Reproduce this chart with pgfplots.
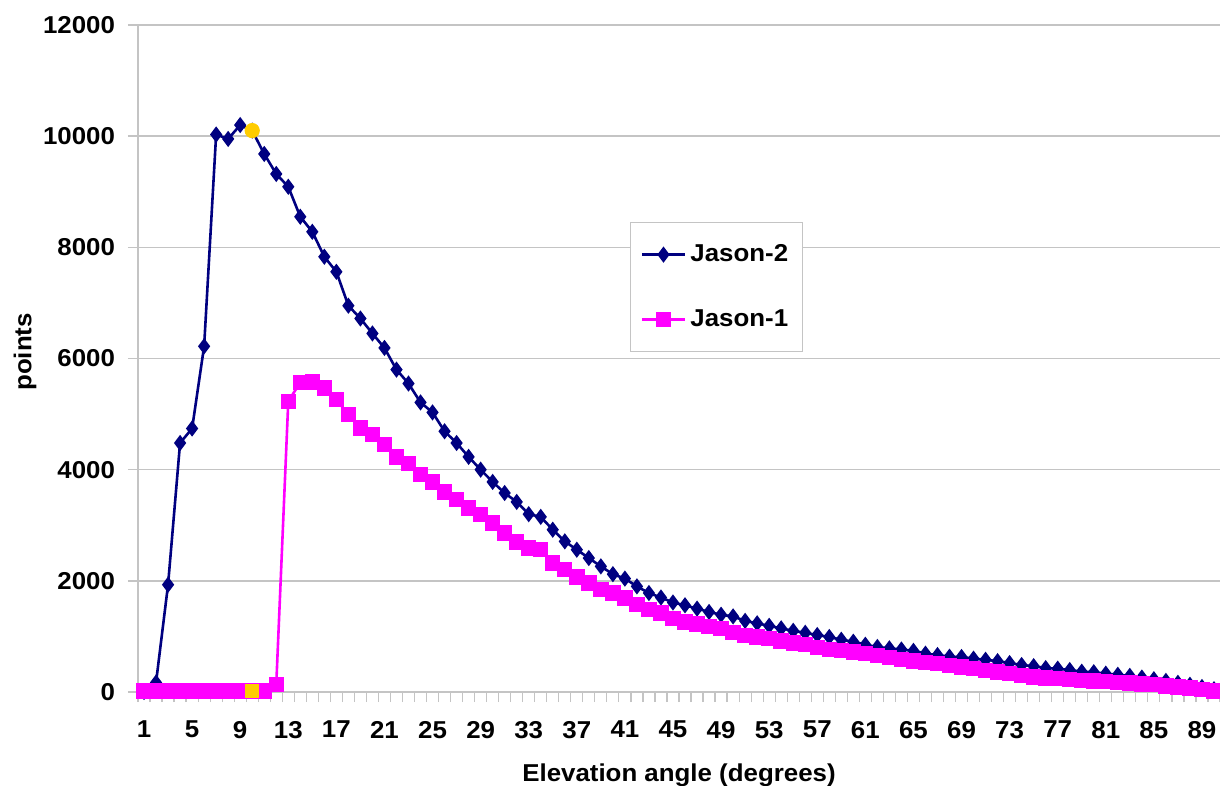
\documentclass[border=0pt]{standalone}
\usepackage{pgfplots}
\pgfplotsset{compat=1.18}
\usepackage{fontspec}
\setmainfont{Liberation Sans}[FakeStretch=1.06]
\usetikzlibrary{calc}
\definecolor{navyb}{HTML}{000080}
\definecolor{mag}{HTML}{FF00FF}
\definecolor{gold}{HTML}{FFCC00}
\definecolor{gridc}{HTML}{C4C4C4}
\newcommand{\lblfont}{\fontsize{12.2}{14}\selectfont\bfseries}
\begin{document}
\begin{tikzpicture}
\begin{axis}[
 scale only axis, width=541pt, height=333.5pt,
 xmin=0.5, xmax=90.5, ymin=0, ymax=12000,
 clip=false,
 scaled ticks=false,
 axis x line*=bottom, axis y line*=left,
 axis line style={gridc, line width=0.8pt, -},
 xtick={1,5,...,89},
 minor xtick={0.5,1.5,...,90.5},
 ytick={0,2000,...,12000},
 ymajorgrids, grid style={gridc, line width=0.8pt},
 major x tick style={draw=none},
 minor x tick style={gridc, line width=0.6pt},
 minor tick length=5pt,
 y tick style={gridc, line width=0.8pt}, major tick length=5pt,
 tick align=outside,
 tick label style={font=\lblfont},
 xticklabel style={yshift=-6pt},
 yticklabel style={xshift=-3pt},
 /pgf/number format/.cd, 1000 sep={}, assume math mode=true, /pgfplots/.cd,
 xlabel={Elevation angle (degrees)},
 ylabel={points},
 every axis x label/.style={at={(axis description cs:0.5,-0.1244)}, anchor=center, font=\lblfont},
 every axis y label/.style={at={(axis description cs:-0.1044,0.51)}, anchor=center, rotate=90, font=\lblfont},
 legend style={at={(axis description cs:0.4547,0.7046)}, anchor=north west, draw=gridc, fill=white,
   font=\lblfont, row sep=18.5pt, inner xsep=5pt, inner ysep=9pt, line width=0.6pt},
 legend cell align=left,
 legend image code/.code={\draw[mark repeat=2,mark phase=2] plot coordinates {(0cm,0cm) (0.38cm,0cm) (0.76cm,0cm)};},
]
\coordinate (pa) at (rel axis cs:0,0);
\coordinate (pb) at (rel axis cs:1,1);
\addplot[navyb, line width=1.3pt, mark=diamond*, mark size=3pt, mark options={solid, fill=navyb}] coordinates {
(1,0) (2,170) (3,1930) (4,4480) (5,4740) (6,6220) (7,10030) (8,9950) (9,10200) (10,10100)
(11,9680) (12,9320) (13,9090) (14,8550) (15,8280) (16,7830) (17,7560) (18,6950) (19,6720) (20,6450)
(21,6190) (22,5800) (23,5550) (24,5210) (25,5030) (26,4690) (27,4480) (28,4230) (29,4000) (30,3780)
(31,3580) (32,3420) (33,3200) (34,3150) (35,2920) (36,2710) (37,2560) (38,2410) (39,2260) (40,2120)
(41,2040) (42,1900) (43,1780) (44,1700) (45,1610) (46,1560) (47,1500) (48,1440) (49,1390) (50,1360)
(51,1280) (52,1235) (53,1190) (54,1145) (55,1100) (56,1065) (57,1025) (58,990) (59,940) (60,905)
(61,850) (62,810) (63,785) (64,765) (65,740) (66,690) (67,665) (68,635) (69,630) (70,600)
(71,580) (72,555) (73,520) (74,485) (75,465) (76,430) (77,420) (78,395) (79,365) (80,355)
(81,330) (82,310) (83,290) (84,260) (85,230) (86,200) (87,165) (88,130) (89,90) (90,50)
};
\addlegendentry{Jason-2}
\addplot[mag, line width=1.3pt, mark=square*, mark size=3.2pt, mark options={solid, fill=mag}] coordinates {
(1,20) (2,20) (3,20) (4,20) (5,20) (6,20) (7,20) (8,20) (9,20) (10,20)
(11,20) (12,130) (13,5230) (14,5570) (15,5580) (16,5470) (17,5260) (18,4990) (19,4750) (20,4630)
(21,4450) (22,4230) (23,4110) (24,3910) (25,3780) (26,3600) (27,3460) (28,3310) (29,3190) (30,3040)
(31,2860) (32,2700) (33,2590) (34,2560) (35,2320) (36,2200) (37,2070) (38,1960) (39,1840) (40,1780)
(41,1690) (42,1570) (43,1480) (44,1420) (45,1320) (46,1260) (47,1220) (48,1180) (49,1140) (50,1070)
(51,1020) (52,990) (53,960) (54,920) (55,880) (56,850) (57,800) (58,770) (59,750) (60,720)
(61,690) (62,660) (63,620) (64,590) (65,560) (66,530) (67,510) (68,480) (69,450) (70,420)
(71,390) (72,360) (73,330) (74,300) (75,270) (76,250) (77,240) (78,220) (79,205) (80,195)
(81,185) (82,175) (83,160) (84,145) (85,130) (86,110) (87,90) (88,70) (89,45) (90,20)
};
\addlegendentry{Jason-1}
\addplot[only marks, gold, mark=*, mark size=3.6pt, forget plot] coordinates {(10,10100)};
\addplot[only marks, gold, mark=square*, mark size=3.2pt, forget plot] coordinates {(10,20)};
\end{axis}
\pgfresetboundingbox
\path[use as bounding box] ($(pa)+(-69pt,-47pt)$) rectangle ($(pb)+(0pt,12.5pt)$);
\end{tikzpicture}
\end{document}
